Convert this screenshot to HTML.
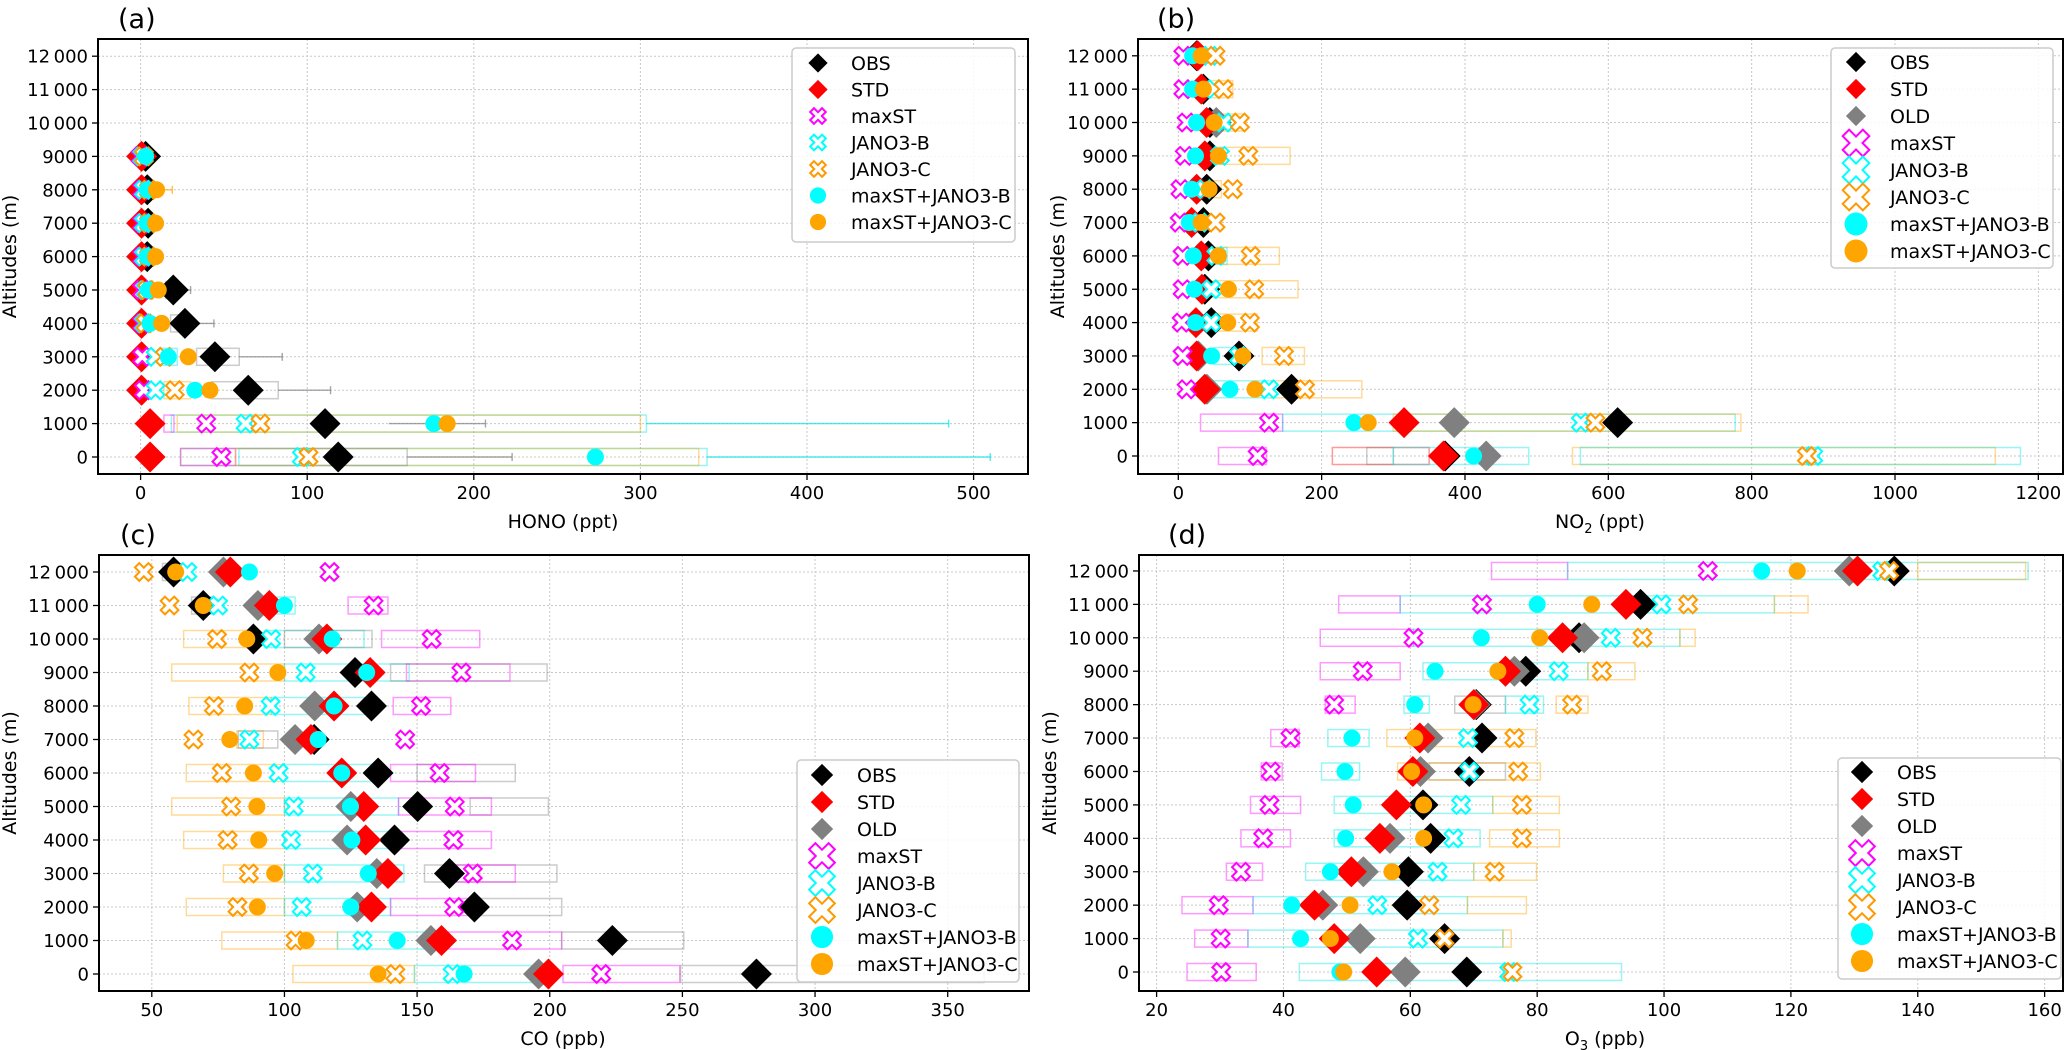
<!DOCTYPE html>
<html><head><meta charset="utf-8"><style>
html,body{margin:0;padding:0;background:#fff;}
svg{display:block;font-family:"DejaVu Sans","Liberation Sans",sans-serif;}
</style></head><body>
<svg id="fig" width="2067" height="1050" viewBox="0 0 2067 1050" xmlns="http://www.w3.org/2000/svg"></svg>
<script>
// ---------- data ----------
const altitudes = [0,1000,2000,3000,4000,5000,6000,7000,8000,9000,10000,11000,12000];
const yTicks = [0,1000,2000,3000,4000,5000,6000,7000,8000,9000,10000,11000,12000];
const yTickLabels = ["0","1000","2000","3000","4000","5000","6000","7000","8000","9000","10\u2009000","11\u2009000","12\u2009000"];

// (a) HONO ppt
const honoTicks = [0,100,200,300,400,500];
const honoObs = [118.6,110.7,64.6,44.6,26.6,19.6,4,4.5,4,3,null,null,null];
const honoStd = [5.7,5.7,0.6,0.6,0.6,0.6,0.6,0.6,0.6,0.6,null,null,null];
const honoMaxST = [48.5,39.4,2,1,1,1,1,1,1,0,null,null,null];
const honoJanB = [96.8,63,9,9,2,3,2,2,2,1,null,null,null];
const honoJanC = [100.8,71.9,20.5,14.6,3,4,5,5,5,2,null,null,null];
const honoMaxB = [273,176,32.6,16.6,5.6,4.6,4,4,4,3,null,null,null];
const honoMaxC = [null,184,41.6,28.6,12.6,10.6,9,9,9.6,null,null,null,null];
const honoBoxes = [['obs',3000,33.6,59.2],['obs',2000,42.6,82.6],['obs',4000,18,26],['obs',5000,15,21],['B',3000,12,22],['C',2000,14,30],['B',1000,18.5,303.6],['max',1000,14,20],['C',1000,22,300],['B',0,59,340],['max',0,24,57],['C',0,57,335],['obs',0,24,160]];
const honoWhiskers = [['obs',3000,59.2,85],['obs',2000,82.6,114],['obs',4000,26,44],['obs',5000,21,30],['obs',1000,149,207],['B',1000,303.6,485],['B',0,340,510],['obs',0,160,223],['C',8000,5,19]];

// (b) NO2 ppt
const no2Ticks = [0,200,400,600,800,1000,1200];
const no2Obs = [372.3,613,158,84.7,46,37,42,35,39.6,44,44,35,25.6];
const no2Std = [370,315,37,25.6,24.6,33,32,18.6,25.6,37,39.5,32,27];
const no2Old = [429.6,385,40,28,null,null,null,null,null,null,53,null,null];
const no2MaxST = [110.7,126.7,11.6,6,4.7,6,6,2,3,9,11.6,7,7];
const no2JanB = [886,561.7,126.5,84.7,46,46,53,30,37,58,63,50,44];
const no2JanC = [877,582,176.8,147.5,100,106,101,52,76,97.7,86,63,52];
const no2MaxB = [412,245,72,46.5,24,22.4,21,15.4,18.6,24,25.6,20,20];
const no2MaxC = [null,265,107,90,69,70,56,32,43,56,50,35,32];
const no2Boxes = [['C',11000,45,76],['C',10000,55,90],['C',9000,60,156],['B',9000,40,60],['C',8000,45,60],['B',6000,40,68],['C',6000,63,141],['C',5000,49,167],['C',4000,55,110],['B',3000,50,80],['C',3000,117,176],['B',2000,45,130],['C',2000,130,256],['max',1000,31,145.6],['B',1000,145.6,777],['C',1000,300,785],['max',0,56,123],['std',0,215,350],['obs',0,263,300],['B',0,300,489],['C',0,550,1140],['B',0,561,1175]];
const no2Whiskers = [];

// (c) CO ppb
const coTicks = [50,100,150,200,250,300,350];
const coObs = [277.9,223.6,171.6,162.2,141.5,150.2,135.3,111.2,132.8,126.6,88.3,69.4,58.2];
const coStd = [199.5,159.2,132.8,139,130.6,129.9,121.6,110,118.7,132.3,116,94.3,79.6];
const coOld = [195.8,155.2,127.4,134.8,123.6,125,null,104,111.4,null,113,90,77];
const coMaxST = [219.4,185.8,164,171,163.7,164.2,158.5,145.5,151.5,166.7,155.5,133.6,117];
const coJanB = [163.4,129.4,106.5,110.7,102.5,103.5,97.8,86.8,94.8,108,95,75,63.4];
const coJanC = [141.8,104.2,82.3,86.6,78.6,79.9,76.4,65.7,73.4,86.8,74.6,56.7,47];
const coMaxB = [167.7,142.5,125,131.6,125.4,124.9,121.6,112.7,118.7,131,118,100,86.8];
const coMaxC = [135.3,108.2,89.8,96.3,90.3,89.6,88.3,79.4,85,97.5,85.8,69.4,59];
const coBoxes = [['obs',12000,54,62],['max',11000,124,139],['obs',11000,65,73],['B',11000,95,104],['C',10000,62,88],['B',10000,92.5,130],['obs',10000,100,133],['max',10000,136.6,173.6],['C',9000,57.5,100],['B',9000,100,147],['max',9000,146,185],['obs',9000,140,199],['C',8000,64,95],['B',8000,95,130],['max',8000,141,162.7],['C',7000,82,92],['obs',7000,82.6,97.5],['C',6000,63,100],['B',6000,100,135],['obs',6000,150,187],['max',6000,140,172],['C',5000,57.5,100],['B',5000,100,143],['obs',5000,170,199.5],['max',5000,143,178],['C',4000,62,100],['B',4000,100,140],['max',4000,140,178],['C',3000,77,100],['B',3000,100,145],['obs',3000,152.8,202.7],['max',3000,165,187],['C',2000,63,100],['B',2000,100,140],['obs',2000,172,204.5],['max',2000,140,170],['C',1000,76.4,120],['B',1000,120,160],['max',1000,160,204.5],['obs',1000,204.5,250.5],['C',0,103.2,149],['B',0,149,195],['max',0,205,249],['obs',0,249.3,363.7]];
const coWhiskers = [];

// (d) O3 ppb
const o3Ticks = [20,40,60,80,100,120,140,160];
const o3Obs = [68.9,65.4,59.5,59.7,63.2,62,69.3,71.3,70.4,78.2,86.6,96.3,136.3];
const o3Std = [54.7,48,44.9,50.7,55.2,57.8,60.4,61.5,70,75,84,94,130.5];
const o3Old = [59.2,52.1,46.2,52.6,56.8,null,61.6,62.8,70.2,76.4,87.4,null,129.2];
const o3MaxST = [30.2,30.1,29.8,33.3,36.8,37.8,38,41.1,48,52.5,60.5,71.3,106.9];
const o3JanB = [75.6,61.2,54.8,64.3,66.8,68,69.3,69.1,78.8,83.4,91.6,99.6,134.4];
const o3JanC = [76.1,65.4,63,73.3,77.6,77.6,77,76.4,85.5,90.2,96.6,103.8,135.5];
const o3MaxB = [48.9,42.7,41.3,47.4,49.8,51,49.7,50.8,60.7,63.9,71.2,80,115.4];
const o3MaxC = [49.5,47.4,50.5,57.1,62.1,62.1,60.2,60.7,69.9,73.8,80.4,88.6,121];
const o3Boxes = [['max',12000,72.8,84.8],['B',12000,84.8,157.4],['C',12000,140,157],['max',11000,48.7,58.4],['B',11000,58.4,117.4],['C',11000,117.4,122.7],['max',10000,45.8,60.5],['B',10000,60.5,102.5],['C',10000,102.5,104.9],['max',9000,45.8,58.4],['B',9000,62,88],['C',9000,88,95.4],['max',8000,46.6,51.3],['B',8000,59,63],['obs',8000,67,75],['B',8000,75,81],['C',8000,83,88],['max',7000,38,42.5],['B',7000,47,53.5],['C',7000,56.3,79.8],['max',6000,36.5,39.8],['B',6000,46,52],['obs',6000,63,75],['C',6000,58,80.5],['max',5000,34.8,42.7],['B',5000,48,73],['C',5000,73,83.5],['max',4000,33.3,41.1],['B',4000,48,71],['C',4000,72.5,83.5],['max',3000,31,36.7],['B',3000,43.5,70],['C',3000,70,79.9],['max',2000,24,35.2],['B',2000,35.2,69],['C',2000,69,78.3],['max',1000,26,34.4],['B',1000,34.4,74.6],['C',1000,74.6,75.9],['max',0,24.8,35.7],['B',0,42.5,93.3]];
const o3Whiskers = [];

// ---------- drawing ----------
const NS = "http://www.w3.org/2000/svg";
const svg = document.getElementById('fig');
const boxColor = {obs:'#808080', std:'#ff0000', max:'#ff00ff', B:'#00e5e5', C:'#ffa500'};

function mk(tag, attrs, parent){
  const e = document.createElementNS(NS, tag);
  for (const k in attrs) e.setAttribute(k, attrs[k]);
  (parent||svg).appendChild(e);
  return e;
}
function xPoints(cx, cy, s){
  const t = 0.32, base = [[t,1],[t,t],[1,t],[1,-t],[t,-t],[t,-1],[-t,-1],[-t,-t],[-1,-t],[-1,t],[-t,t],[-t,1]];
  const c = Math.SQRT1_2;
  return base.map(p => [(p[0]-p[1])*c*s + cx, (p[0]+p[1])*c*s + cy].map(v=>v.toFixed(2)).join(',')).join(' ');
}
function drawMarker(g, kind, cx, cy, scale, name){
  let el;
  if (kind === 'dObs' || kind === 'dStd' || kind === 'dOld'){
    const col = kind==='dObs' ? '#000' : kind==='dStd' ? '#ff0000' : '#808080';
    const h = 15.5*scale;
    el = mk('polygon', {points:`${cx},${cy-h} ${cx+h},${cy} ${cx},${cy+h} ${cx-h},${cy}`, fill:col}, g);
  } else if (kind === 'xMax' || kind === 'xB' || kind === 'xC'){
    const col = kind==='xMax' ? '#ff00ff' : kind==='xB' ? '#00ffff' : '#ff9900';
    el = mk('polygon', {points:xPoints(cx, cy, 9.5*scale), fill:'#fff', stroke:col, 'stroke-width':2}, g);
  } else {
    const col = kind==='cB' ? '#00ffff' : '#ffa500';
    el = mk('circle', {cx:cx, cy:cy, r:8.5*scale, fill:col}, g);
  }
  
  
  return el;
}

function panel(cfg){
  const g = mk('g', {});
  
  
  const L=cfg.left, R=cfg.right, T=cfg.top, B=cfg.bottom;
  const xs = v => cfg.x0px + (v - cfg.x0v) * cfg.pxPer;
  const ys = a => cfg.y0px - a * cfg.pxPerM;
  const clipId = 'clip-' + cfg.name;
  const cp = mk('clipPath', {id:clipId}, g);
  mk('rect', {x:L, y:T, width:R-L, height:B-T}, cp);

  const grid = mk('g', {stroke:'#c8c8c8', 'stroke-width':1, 'stroke-dasharray':'2,2'}, g);
  
  
  cfg.xticks.forEach(v => { const x = xs(v); mk('line', {x1:x, x2:x, y1:T, y2:B}, grid); });
  yTicks.forEach(a => { const y = ys(a); mk('line', {x1:L, x2:R, y1:y, y2:y}, grid); });

  const plot = mk('g', {'clip-path':`url(#${clipId})`}, g);
  
  
  cfg.boxes.forEach(b => {
    const x1 = xs(b[2]), x2 = xs(b[3]), y = ys(b[1]);
    const r = mk('rect', {x:x1, y:y-8.5, width:Math.max(1,x2-x1), height:17, fill:'none', stroke:boxColor[b[0]], 'stroke-width':1.5, 'stroke-opacity':0.4}, plot);
    
    
  });
  cfg.whiskers.forEach(w => {
    const y = ys(w[1]);
    const ln = mk('line', {x1:xs(w[2]), x2:xs(w[3]), y1:y, y2:y, stroke:boxColor[w[0]], 'stroke-width':1.4, 'stroke-opacity':0.7}, plot);
    
    
    const cap = mk('line', {x1:xs(w[3]), x2:xs(w[3]), y1:y-4, y2:y+4, stroke:boxColor[w[0]], 'stroke-width':1.4, 'stroke-opacity':0.7}, plot);
    
    
  });
  cfg.series.forEach(s => {
    s.vals.forEach((v, i) => {
      if (v === null || v === undefined) return;
      drawMarker(plot, s.kind, xs(v), ys(altitudes[i]), 1, s.name + '-point');
    });
  });

  const fr = mk('rect', {x:L, y:T, width:R-L, height:B-T, fill:'none', stroke:'#000', 'stroke-width':2}, g);
  
  

  cfg.xticks.forEach((v, i) => {
    const x = xs(v);
    mk('line', {x1:x, x2:x, y1:B, y2:B+6, stroke:'#000', 'stroke-width':1.3}, g);
    const t = mk('text', {x:x, y:B+25, 'font-size':18, 'text-anchor':'middle', fill:'#000'}, g);
    t.textContent = String(v);
    
    
  });
  yTicks.forEach((a, i) => {
    const y = ys(a);
    mk('line', {x1:L-6, x2:L, y1:y, y2:y, stroke:'#000', 'stroke-width':1.3}, g);
    const t = mk('text', {x:L-10, y:y+6.5, 'font-size':18, 'text-anchor':'end', fill:'#000'}, g);
    t.textContent = yTickLabels[i];
    
    
  });

  const xl = mk('text', {x:cfg.xlabelX, y:B+54, 'font-size':19, 'text-anchor':'middle', fill:'#000'}, g);
  xl.innerHTML = cfg.xlabel;
  
  
  const ylx = cfg.ylabelX, yly = (T+B)/2;
  const yl = mk('text', {x:ylx, y:yly, 'font-size':19, 'text-anchor':'middle', fill:'#000', transform:`rotate(-90 ${ylx} ${yly})`}, g);
  yl.textContent = 'Altitudes (m)';
  
  
  const pl = mk('text', {x:cfg.letterX, y:T-11, 'font-size':27, fill:'#000'}, g);
  pl.textContent = cfg.letter;
  
  

  const lg = cfg.legend;
  const leg = mk('g', {}, g);
  
  
  mk('rect', {x:lg.x, y:lg.y, width:lg.w, height:lg.h, rx:4, fill:'#fff', 'fill-opacity':0.85, stroke:'#cccccc', 'stroke-width':1.5}, leg);
  lg.entries.forEach((e, i) => {
    const cy = lg.firstY + i*lg.step;
    const item = mk('g', {}, leg);
    
    
    const sc = e.kind[0]==='d' ? lg.dScale : e.kind[0]==='x' ? lg.xScale : lg.cScale;
    drawMarker(item, e.kind, lg.mx, cy, sc, 'legend-marker');
    const t = mk('text', {x:lg.tx, y:cy+7, 'font-size':19, fill:'#000'}, item);
    t.textContent = e.label;
    
    
  });
}

const E7 = [{kind:'dObs',label:'OBS'},{kind:'dStd',label:'STD'},{kind:'xMax',label:'maxST'},{kind:'xB',label:'JANO3-B'},{kind:'xC',label:'JANO3-C'},{kind:'cB',label:'maxST+JANO3-B'},{kind:'cC',label:'maxST+JANO3-C'}];
const E8 = [{kind:'dObs',label:'OBS'},{kind:'dStd',label:'STD'},{kind:'dOld',label:'OLD'},{kind:'xMax',label:'maxST'},{kind:'xB',label:'JANO3-B'},{kind:'xC',label:'JANO3-C'},{kind:'cB',label:'maxST+JANO3-B'},{kind:'cC',label:'maxST+JANO3-C'}];

function seriesList(o, s, old, m, b, c, cb, cc){
  const arr = [{kind:'dObs',name:'obs',vals:o}];
  if (old) arr.push({kind:'dOld',name:'old',vals:old});
  arr.push({kind:'dStd',name:'std',vals:s});
  arr.push({kind:'xMax',name:'maxst',vals:m},{kind:'xB',name:'jano3-b',vals:b},{kind:'xC',name:'jano3-c',vals:c},{kind:'cB',name:'maxst-jano3-b',vals:cb},{kind:'cC',name:'maxst-jano3-c',vals:cc});
  return arr;
}

panel({name:'panel-a-hono', left:98, right:1028, top:39, bottom:474, x0px:140.6, x0v:0, pxPer:1.666,
  y0px:457, pxPerM:0.0334, xticks:honoTicks, boxes:honoBoxes, whiskers:honoWhiskers,
  series:seriesList(honoObs,honoStd,null,honoMaxST,honoJanB,honoJanC,honoMaxB,honoMaxC),
  xlabel:'HONO (ppt)', xlabelX:563, ylabelX:16, letter:'(a)', letterX:118,
  legend:{x:792,y:48,w:223,h:194,mx:818,tx:851,firstY:63,step:26.5,entries:E7,dScale:0.62,xScale:0.88,cScale:0.95}});

panel({name:'panel-b-no2', left:1138, right:2063, top:39, bottom:474, x0px:1178.3, x0v:0, pxPer:0.7167,
  y0px:456, pxPerM:0.03335, xticks:no2Ticks, boxes:no2Boxes, whiskers:no2Whiskers,
  series:seriesList(no2Obs,no2Std,no2Old,no2MaxST,no2JanB,no2JanC,no2MaxB,no2MaxC),
  xlabel:'NO<tspan font-size="13" dy="5">2</tspan><tspan dy="-5"> (ppt)</tspan>', xlabelX:1600, ylabelX:1064, letter:'(b)', letterX:1157,
  legend:{x:1831,y:48,w:222,h:220,mx:1856,tx:1890,firstY:62,step:27,entries:E8,dScale:0.65,xScale:1.5,cScale:1.35}});

panel({name:'panel-c-co', left:99, right:1029, top:555, bottom:991, x0px:151.8, x0v:50, pxPer:2.653,
  y0px:974, pxPerM:0.0335, xticks:coTicks, boxes:coBoxes, whiskers:coWhiskers,
  series:seriesList(coObs,coStd,coOld,coMaxST,coJanB,coJanC,coMaxB,coMaxC),
  xlabel:'CO (ppb)', xlabelX:563, ylabelX:16, letter:'(c)', letterX:120,
  legend:{x:797,y:760,w:222,h:222,mx:822,tx:857,firstY:775,step:27,entries:E8,dScale:0.72,xScale:1.45,cScale:1.3}});

panel({name:'panel-d-o3', left:1139, right:2063, top:555, bottom:991, x0px:1156.6, x0v:20, pxPer:6.343,
  y0px:972, pxPerM:0.03342, xticks:o3Ticks, boxes:o3Boxes, whiskers:o3Whiskers,
  series:seriesList(o3Obs,o3Std,o3Old,o3MaxST,o3JanB,o3JanC,o3MaxB,o3MaxC),
  xlabel:'O<tspan font-size="13" dy="5">3</tspan><tspan dy="-5"> (ppb)</tspan>', xlabelX:1605, ylabelX:1056, letter:'(d)', letterX:1168,
  legend:{x:1838,y:758,w:223,h:221,mx:1862,tx:1897,firstY:772,step:27,entries:E8,dScale:0.72,xScale:1.45,cScale:1.3}});
</script>
</body></html>
